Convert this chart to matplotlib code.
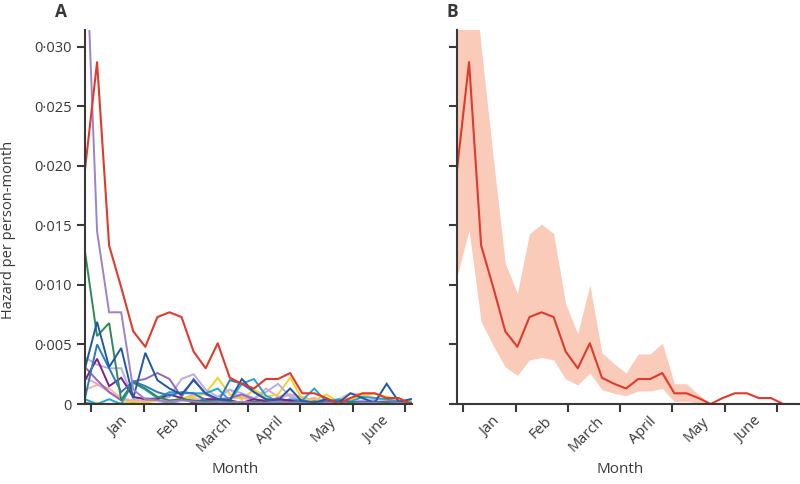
import numpy as np
import matplotlib
matplotlib.use("Agg")
import matplotlib.pyplot as plt

plt.rcParams['font.family'] = ['Open Sans', 'DejaVu Sans']

# weekly hazard, all patients (panel B, red line in A)
hazard = [0.0197, 0.0287, 0.0133, 0.0098, 0.0061, 0.0048, 0.0073, 0.0077, 0.0073, 0.0044,
          0.0030, 0.0051, 0.0022, 0.0017, 0.0013, 0.0021, 0.0021, 0.0026, 0.0009, 0.0009,
          0.0005, 0.0000, 0.0005, 0.0009, 0.0009, 0.0005, 0.0005, 0.0000, 0.0000]
upper = [0.0350, 0.0400, 0.0300, 0.0207, 0.0118, 0.0093, 0.0143, 0.0151, 0.0143, 0.0084,
         0.0059, 0.0100, 0.0043, 0.0034, 0.0026, 0.0042, 0.0042, 0.0051, 0.0017, 0.0017,
         0.0008, 0.0000, 0.0005, 0.0009, 0.0009, 0.0005, 0.0005, 0.0000, 0.0000]
lower = [0.0107, 0.0146, 0.0069, 0.0049, 0.0031, 0.0024, 0.0037, 0.0039, 0.0037, 0.0021,
         0.0016, 0.0026, 0.0012, 0.0009, 0.0007, 0.0011, 0.0011, 0.0013, 0.0002, 0.0002,
         0.0001, 0.0000, 0.0005, 0.0009, 0.0009, 0.0005, 0.0005, 0.0000, 0.0000]

# subgroup curves in panel A
purple = [0.0410, 0.0145, 0.0077, 0.0077, 0.0012, 0.0004, 0.0003, 0.0002, 0.0003, 0.0002,
          0.0001, 0.0002, 0.0001, 0.0002, 0.0001, 0.0001, 0.0002, 0.0001, 0.0001, 0.0000,
          0.0001, 0.0001, 0.0000, 0.0001, 0.0001, 0.0000, 0.0001, 0.0000]
green = [0.0128, 0.0057, 0.0068, 0.0003, 0.0018, 0.0013, 0.0006, 0.0003, 0.0004, 0.0003,
         0.0002, 0.0003, 0.0002, 0.0001, 0.0002, 0.0001, 0.0002, 0.0001, 0.0001, 0.0002,
         0.0001, 0.0001, 0.0001, 0.0000, 0.0001, 0.0001, 0.0000, 0.0001]
darkblue = [0.0030, 0.0069, 0.0031, 0.0047, 0.0005, 0.0043, 0.0020, 0.0013, 0.0008, 0.0020,
            0.0009, 0.0004, 0.0003, 0.0021, 0.0010, 0.0004, 0.0003, 0.0013, 0.0002, 0.0001,
            0.0004, 0.0001, 0.0009, 0.0005, 0.0001, 0.0017, 0.0002, 0.0004]
cyan = [0.0004, 0.0000, 0.0004, 0.0000, 0.0018, 0.0012, 0.0005, 0.0010, 0.0009, 0.0009,
        0.0009, 0.0013, 0.0003, 0.0017, 0.0021, 0.0007, 0.0002, 0.0004, 0.0003, 0.0013,
        0.0002, 0.0004, 0.0002, 0.0006, 0.0005, 0.0004, 0.0002, 0.0001]
yellow = [0.0000, 0.0001, 0.0000, 0.0001, 0.0002, 0.0001, 0.0003, 0.0002, 0.0005, 0.0006,
          0.0009, 0.0022, 0.0008, 0.0004, 0.0012, 0.0006, 0.0008, 0.0022, 0.0004, 0.0003,
          0.0008, 0.0002, 0.0004, 0.0007, 0.0009, 0.0006, 0.0003, 0.0002]
lavender = [0.0039, 0.0033, 0.0030, 0.0030, 0.0004, 0.0005, 0.0004, 0.0006, 0.0021, 0.0025,
            0.0012, 0.0006, 0.0012, 0.0009, 0.0005, 0.0010, 0.0017, 0.0006, 0.0003, 0.0002,
            0.0004, 0.0002, 0.0001, 0.0003, 0.0002, 0.0001, 0.0002, 0.0001]
pink = [0.0022, 0.0017, 0.0010, 0.0004, 0.0002, 0.0003, 0.0006, 0.0003, 0.0004, 0.0008,
        0.0004, 0.0006, 0.0012, 0.0005, 0.0004, 0.0013, 0.0006, 0.0008, 0.0003, 0.0005,
        0.0002, 0.0003, 0.0005, 0.0002, 0.0004, 0.0003, 0.0002, 0.0001]
salmon = [0.0012, 0.0016, 0.0013, 0.0005, 0.0003, 0.0002, 0.0004, 0.0002, 0.0003, 0.0005,
          0.0003, 0.0002, 0.0004, 0.0006, 0.0003, 0.0002, 0.0004, 0.0008, 0.0006, 0.0003,
          0.0002, 0.0004, 0.0009, 0.0008, 0.0005, 0.0004, 0.0002, 0.0001]
magenta = [0.0020, 0.0038, 0.0015, 0.0022, 0.0006, 0.0004, 0.0004, 0.0008, 0.0005, 0.0001,
           0.0004, 0.0004, 0.0003, 0.0001, 0.0004, 0.0002, 0.0004, 0.0003, 0.0001, 0.0002,
           0.0001, 0.0002, 0.0001, 0.0001, 0.0002, 0.0001, 0.0001, 0.0000]
midpurple = [0.0031, 0.0020, 0.0010, 0.0003, 0.0019, 0.0021, 0.0026, 0.0021, 0.0006, 0.0021,
             0.0008, 0.0004, 0.0005, 0.0008, 0.0004, 0.0003, 0.0005, 0.0002, 0.0003, 0.0001,
             0.0003, 0.0002, 0.0001, 0.0002, 0.0001, 0.0002, 0.0001, 0.0001]
blue2 = [0.0005, 0.0050, 0.0030, 0.0010, 0.0019, 0.0015, 0.0010, 0.0007, 0.0010, 0.0009,
         0.0003, 0.0001, 0.0020, 0.0017, 0.0010, 0.0004, 0.0002, 0.0001, 0.0003, 0.0001,
         0.0001, 0.0003, 0.0002, 0.0001, 0.0002, 0.0001, 0.0001, 0.0000]
indigo = [0.0001, 0.0000, 0.0000, 0.0000, 0.0001, 0.0000, 0.0000, 0.0001, 0.0000, 0.0000,
          0.0001, 0.0000, 0.0000, 0.0001, 0.0000, 0.0000, 0.0000, 0.0001, 0.0000, 0.0000,
          0.0000, 0.0001, 0.0000, 0.0000, 0.0001, 0.0000, 0.0000, 0.0004]

months = ["Jan", "Feb", "March", "April", "May", "June"]
month_edges = [0.5, 4.9, 9.2, 13.5, 17.8, 22.2, 26.5]
month_mid = [2.9, 7.25, 11.55, 15.85, 20.2, 24.55]
yticks = [0, 0.005, 0.010, 0.015, 0.020, 0.025, 0.030]
ytick_labels = ["0", "0·005", "0·010", "0·015", "0·020", "0·025", "0·030"]

grey = "#383838"
red = "#e03a2c"

fig = plt.figure(figsize=(8, 4.84), dpi=100)
axA = fig.add_axes([85/800, 1-404/484, 327/800, 374/484])
axB = fig.add_axes([457/800, 1-404/484, 343/800, 374/484])

sub = [(indigo, "#5565cc"), (salmon, "#f4b6aa"), (pink, "#e7a3cf"), (yellow, "#f3d22a"),
       (lavender, "#b8aee0"), (cyan, "#22a7d0"), (midpurple, "#9467b5"), (magenta, "#7b237f"),
       (blue2, "#2c7bbf"), (green, "#2e8b57"), (darkblue, "#1f5aa0"), (purple, "#9b82cc")]
for vals, col in sub:
    axA.plot(np.arange(len(vals)), vals, color=col, lw=1.4, solid_joinstyle='miter')
axA.plot(np.arange(len(hazard)), hazard, color=red, lw=1.5)

wk = np.arange(len(hazard))
axB.fill_between(wk, lower, upper, color="#f9cbb8", lw=0)
axB.plot(wk, hazard, color=red, lw=1.5)

for ax, xmax, lx in [(axA, 27.1, 0.459), (axB, 28.4, 0.475)]:
    ax.set_xlim(0, xmax)
    ax.set_ylim(0, 0.0314)
    for s in ["top", "right"]:
        ax.spines[s].set_visible(False)
    for s in ["left", "bottom"]:
        ax.spines[s].set_color(grey)
        ax.spines[s].set_linewidth(1.5)
    ax.set_yticks(yticks)
    ax.set_xticks(month_mid)
    ax.set_xticklabels(months, rotation=45, ha="right", rotation_mode="anchor",
                       fontsize=10.5, color=grey)
    ax.set_xticks(month_edges, minor=True)
    ax.tick_params(axis="x", which="major", length=0, pad=7)
    ax.tick_params(axis="x", which="minor", length=6, width=1.5, color=grey, direction="out")
    ax.tick_params(axis="y", length=6, width=1.5, color=grey, direction="out")
    ax.set_xlabel("Month", fontsize=11, color=grey)
    ax.xaxis.set_label_coords(lx, -0.155)

axA.set_yticklabels(ytick_labels, fontsize=10.5, color=grey)
axA.set_ylabel("Hazard per person-month", fontsize=10.5, color=grey)
axA.yaxis.set_label_coords(-0.212, 0.465)
axB.set_yticklabels([])

fig.text(55/800, 1-12/484, "A", fontsize=12.5, fontweight="bold", color=grey, va="center")
fig.text(446/800, 1-12/484, "B", fontsize=12.5, fontweight="bold", color=grey, va="center")

fig.savefig("out.png", dpi=100)
